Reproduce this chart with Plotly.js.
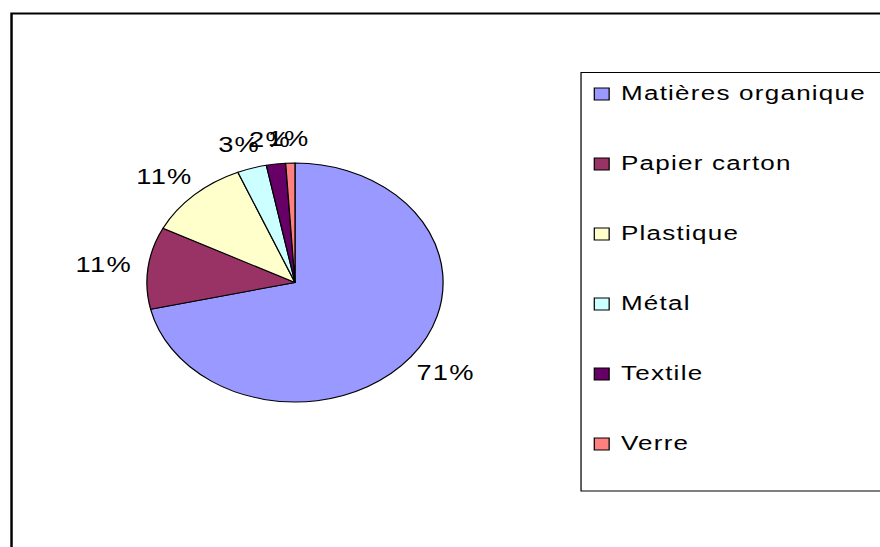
<!DOCTYPE html>
<html>
<head>
<meta charset="utf-8">
<script src="https://cdn.plot.ly/plotly-3.0.1.min.js"></script>
<style>
  html, body { margin: 0; padding: 0; background: #ffffff; overflow: hidden; }
  #wrap { width: 880px; height: 547px; overflow: hidden; }
  #plot { width: 710px; height: 547px; transform: scaleX(1.2394); transform-origin: 0 0; }
  svg text { letter-spacing: 1px; }
</style>
</head>
<body>
<div id="wrap"><div id="plot"></div></div>
<script>
// ---- data ----
const categories = ["Matières organique", "Papier carton", "Plastique", "Métal", "Textile", "Verre"];
const values = [71.4, 11.1, 11.2, 3.2, 2.1, 1.0];
const colors = ["#9999FF", "#993366", "#FFFFCC", "#CCFFFF", "#660066", "#FF8080"];

// ---- layout geometry (native px, before horizontal stretch) ----
const W = 710, H = 547;
const cx = 238, cy = 282.5, R = 119.5;
const FONT = "Liberation Sans, Arial, sans-serif";

const total = values.reduce((a, b) => a + b, 0);

const pie = {
  type: "pie",
  labels: categories,
  values: values,
  sort: false,
  direction: "clockwise",
  rotation: 0,
  textinfo: "none",
  hoverinfo: "none",
  showlegend: false,
  marker: { colors: colors, line: { color: "#000000", width: 1 } },
  domain: { x: [(cx - R) / W, (cx + R) / W], y: [1 - (cy + R) / H, 1 - (cy - R) / H] }
};

const annotations = [];
const shapes = [];

// percentage labels placed outside each slice, derived from the values
let cum = 0;
values.forEach((v, i) => {
  const mid = (cum + v / 2) / total * 2 * Math.PI;
  cum += v;
  const s = Math.sin(mid), c = Math.cos(mid);
  const px = cx + (R + 12) * s, py = cy - (R + 12) * c;
  annotations.push({
    xref: "paper", yref: "paper", x: px / W, y: 1 - py / H,
    xanchor: "center", yanchor: "middle",
    xshift: 24 * s, yshift: 13 * c,
    text: Math.round(v / total * 100) + "%",
    showarrow: false,
    font: { family: FONT, size: 22, color: "#000000" }
  });
});

// outer chart frame
shapes.push({ type: "rect", xref: "paper", yref: "paper",
  x0: 9.3 / W, x1: 1.2, y0: 1 - 13.5 / H, y1: -0.2,
  line: { color: "#000000", width: 2 }, fillcolor: "rgba(0,0,0,0)" });

// legend box
shapes.push({ type: "rect", xref: "paper", yref: "paper",
  x0: 468.8 / W, x1: 1.2, y0: 1 - 72.5 / H, y1: 1 - 491 / H,
  line: { color: "#000000", width: 1 }, fillcolor: "rgba(0,0,0,0)" });

// legend entries
categories.forEach((name, i) => {
  const rowY = 94 + 70 * i;
  shapes.push({ type: "rect", xref: "paper", yref: "paper",
    x0: 479.5 / W, x1: 491.5 / W, y0: 1 - (rowY - 6) / H, y1: 1 - (rowY + 6) / H,
    line: { color: "#000000", width: 1 }, fillcolor: colors[i] });
  annotations.push({ xref: "paper", yref: "paper", x: 499 / W, y: 1 - (rowY - 1.5) / H,
    xanchor: "left", yanchor: "middle", text: name, showarrow: false,
    font: { family: FONT, size: 21, color: "#000000" } });
});

const layout = {
  width: W, height: H,
  margin: { l: 0, r: 0, t: 0, b: 0 },
  paper_bgcolor: "#ffffff",
  plot_bgcolor: "#ffffff",
  showlegend: false,
  annotations: annotations,
  shapes: shapes
};

Plotly.newPlot("plot", [pie], layout, { staticPlot: true, displayModeBar: false });
</script>
</body>
</html>
